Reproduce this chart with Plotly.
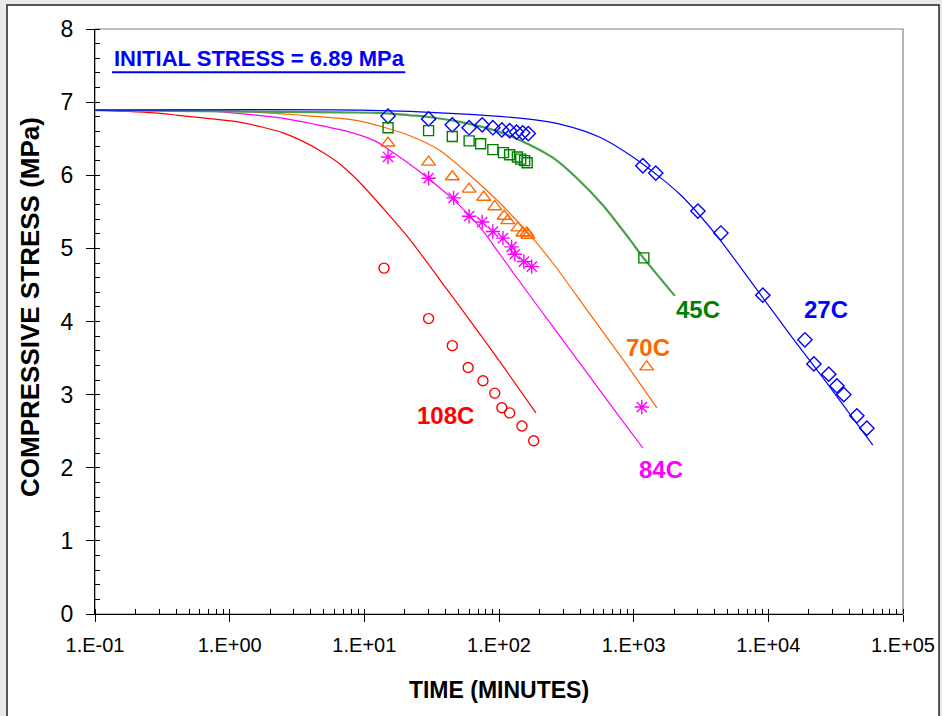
import numpy as np
import plotly.graph_objects as go

# ---- measured data (time in minutes, stress in MPa) ----
t_27 = [15, 30, 45, 60, 75, 90, 105, 120, 135, 150, 165,
        1170, 1460, 3000, 4440, 9100, 18700, 21800, 28100, 32300, 36400, 45400, 53900]
s_27 = [6.81, 6.77, 6.69, 6.65, 6.69, 6.65, 6.62, 6.61, 6.59, 6.58, 6.57,
        6.13, 6.03, 5.51, 5.21, 4.36, 3.75, 3.42, 3.28, 3.12, 3.00, 2.71, 2.54]

t_45 = [15, 30, 45, 60, 73, 90, 108, 120, 137, 145, 155, 162, 1190]
s_45 = [6.65, 6.61, 6.53, 6.47, 6.43, 6.35, 6.31, 6.28, 6.25, 6.22, 6.20, 6.17, 4.87]

t_70 = [15, 30, 45, 60, 77, 93, 109, 116, 138, 150, 161, 164, 1250]
s_70 = [6.44, 6.18, 5.98, 5.81, 5.70, 5.57, 5.44, 5.38, 5.28, 5.21, 5.21, 5.18, 3.38]

t_84 = [15, 30, 46, 60, 75, 90, 107, 124, 131, 153, 175, 1150]
s_84 = [6.25, 5.96, 5.69, 5.44, 5.36, 5.23, 5.14, 5.02, 4.92, 4.82, 4.75, 2.83]

t_108 = [14, 30, 45, 59, 76, 93, 105, 120, 148, 181]
s_108 = [4.73, 4.04, 3.67, 3.37, 3.19, 3.02, 2.82, 2.75, 2.57, 2.37]

# ---- model curves ----
ct_27 = [0.1, 9.27, 51.3, 143, 283, 561, 987, 1648, 2203, 2998, 4364, 8649, 15200, 27190, 59700]
cs_27 = [6.89, 6.89, 6.84, 6.78, 6.70, 6.52, 6.25, 5.94, 5.74, 5.48, 5.12, 4.38, 3.77, 3.16, 2.31]

ct_45 = [0.1, 6.59, 13.75, 21.8, 29.2, 51.3, 90.1, 143, 251, 379, 591, 937, 1170, 2023]
cs_45 = [6.89, 6.86, 6.85, 6.82, 6.80, 6.73, 6.62, 6.48, 6.24, 5.96, 5.59, 5.12, 4.88, 4.35]

ct_70 = [0.1, 1.30, 3.44, 6.37, 9.27, 13.75, 21.8, 36.4, 60.8, 101.5, 170, 251, 449, 790, 1486]
cs_70 = [6.89, 6.87, 6.82, 6.78, 6.74, 6.66, 6.54, 6.34, 6.00, 5.62, 5.18, 4.80, 4.16, 3.54, 2.82]

ct_84 = [0.1, 0.553, 1.095, 2.445, 4.45, 7.82, 11.99, 15.23, 21.8, 29.7, 46.3, 72.1, 101.5,
         143, 251, 449, 790, 1170]
cs_84 = [6.89, 6.89, 6.85, 6.78, 6.69, 6.59, 6.47, 6.35, 6.15, 5.96, 5.66, 5.29, 4.92,
         4.54, 3.93, 3.30, 2.69, 2.27]

ct_108 = [0.1, 0.294, 0.413, 0.739, 1.15, 1.74, 2.49, 3.44, 4.84, 6.82, 9.60, 13.75, 21.8,
          36.4, 51.3, 101.5, 188]
cs_108 = [6.89, 6.85, 6.82, 6.77, 6.73, 6.66, 6.58, 6.47, 6.32, 6.13, 5.87, 5.55, 5.12,
          4.57, 4.20, 3.45, 2.75]

x_tickvals = [0.1, 1, 10, 100, 1000, 10000, 100000]
x_ticktext = ["1.E-01", "1.E+00", "1.E+01", "1.E+02", "1.E+03", "1.E+04", "1.E+05"]
y_tickvals = [0, 1, 2, 3, 4, 5, 6, 7, 8]

RED = "#ff0000"
MAG = "#ff00ff"
ORA = "#ff6600"
GRN = "#48a048"
GRN_M = "#008000"
BLU = "#0000ff"

FONT = "Liberation Sans, Arial, sans-serif"

fig = go.Figure()

curves = [
    (ct_108, cs_108, RED, 1.2),
    (ct_84, cs_84, MAG, 1.2),
    (ct_70, cs_70, ORA, 1.2),
    (ct_45, cs_45, GRN, 2.2),
    (ct_27, cs_27, BLU, 1.2),
]
for ct, cs, col, w in curves:
    fig.add_trace(go.Scatter(x=ct, y=cs, mode="lines",
                             line=dict(color=col, width=w, shape="spline", smoothing=0.8),
                             hoverinfo="skip"))

points = [
    (t_27, s_27, BLU, "diamond-open", 11),
    (t_45, s_45, GRN_M, "square-open", 10),
    (t_70, s_70, ORA, "triangle-up-open", 12),
    (t_84, s_84, MAG, "asterisk-open", 12),
    (t_108, s_108, RED, "circle-open", 10),
]
for t, s, col, sym, sz in points:
    fig.add_trace(go.Scatter(x=t, y=s, mode="markers",
                             marker=dict(symbol=sym, size=sz, color=col,
                                         line=dict(color=col, width=1.4))))

# series labels
labels = [
    ("27C", 4.427, 4.17, BLU),
    ("45C", 3.477, 4.16, GRN_M),
    ("70C", 3.105, 3.65, ORA),
    ("84C", 3.200, 1.97, MAG),
    ("108C", 1.606, 2.71, RED),
]
annotations = []
for txt, lx, ly, col in labels:
    annotations.append(dict(x=lx, y=ly, xref="x", yref="y", text=f"<b>{txt}</b>",
                            showarrow=False, font=dict(family=FONT, size=24, color=col)))

annotations.append(dict(x=0.021, y=0.950, xref="x domain", yref="y domain",
                        xanchor="left", yanchor="middle",
                        text="<b>INITIAL STRESS = 6.89 MPa</b>", showarrow=False,
                        font=dict(family=FONT, size=22, color=BLU)))

# vertical axis title
annotations.append(dict(x=-0.0804, y=0.5248, xref="paper", yref="paper",
                        xanchor="center", yanchor="middle", textangle=-90,
                        text="<b>COMPRESSIVE STRESS (MPa)</b>", showarrow=False,
                        font=dict(family=FONT, size=26, color="black")))

shapes = [
    # outer white panel
    dict(type="rect", xref="paper", yref="paper", x0=-0.1089, x1=1.0446, y0=-0.25, y1=1.041,
         fillcolor="white", line=dict(color="#222222", width=1.5), layer="below"),
    # plot-area frame (top / right)
    dict(type="rect", xref="x domain", yref="y domain", x0=0, x1=1, y0=0, y1=1,
         line=dict(color="#808080", width=1.2), layer="below"),
    # underline of the initial stress note
    dict(type="line", xref="x domain", yref="y domain", x0=0.021, x1=0.384, y0=0.926, y1=0.926,
         line=dict(color=BLU, width=2)),
]

fig.update_layout(
    width=942, height=716,
    margin=dict(l=95, r=39, t=29, b=102, autoexpand=False),
    paper_bgcolor="#e9e9e9",
    plot_bgcolor="white",
    showlegend=False,
    font=dict(family=FONT, color="black"),
    annotations=annotations,
    shapes=shapes,
)

fig.update_xaxes(
    type="log", range=[-1, 5],
    tickvals=x_tickvals, ticktext=x_ticktext,
    ticks="outside", ticklen=7, tickcolor="black", tickwidth=1,
    minor=dict(ticks="inside", ticklen=5, tickcolor="black", dtick="D1", showgrid=False),
    showline=True, linecolor="black", linewidth=1.2,
    showgrid=False, zeroline=False, automargin=False,
    tickfont=dict(family=FONT, size=20),
    ticklabelstandoff=6,
    title=dict(text="<b>TIME (MINUTES)</b>", font=dict(family=FONT, size=23), standoff=26),
)
fig.update_yaxes(
    range=[0, 8],
    tickvals=y_tickvals,
    ticks="outside", ticklen=8, tickcolor="black", tickwidth=1,
    minor=dict(ticks="inside", ticklen=5, tickcolor="black", dtick=0.2, showgrid=False),
    showline=True, linecolor="black", linewidth=1.2,
    showgrid=False, zeroline=False, automargin=False,
    tickfont=dict(family=FONT, size=23),
    ticklabelstandoff=8,
)

fig.write_html("out.html")
